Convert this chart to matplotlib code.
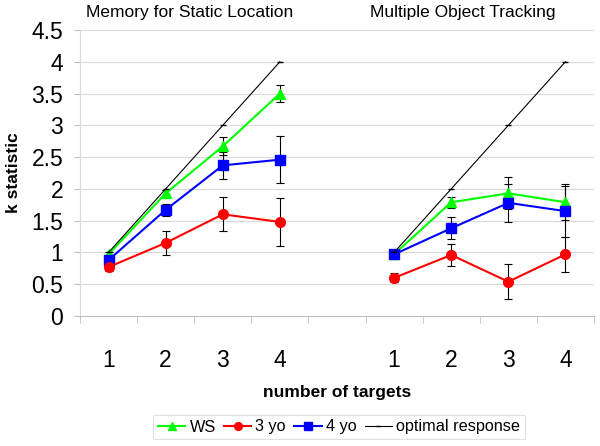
import matplotlib
matplotlib.use("Agg")
import matplotlib.pyplot as plt
import numpy as np

plt.rcParams['font.family'] = ['Liberation Sans', 'DejaVu Sans']

categories = ["1", "2", "3", "4", "", "1", "2", "3", "4"]
panel_titles = ["Memory for Static Location", "Multiple Object Tracking"]

# left panel (Memory for Static Location)
ws_static = [0.97, 1.93, 2.67, 3.50]
ws_static_err = [0.04, 0.06, 0.14, 0.13]
y3_static = [0.77, 1.15, 1.60, 1.48]
y3_static_err = [0.06, 0.19, 0.27, 0.38]
y4_static = [0.88, 1.67, 2.37, 2.46]
y4_static_err = [0.04, 0.09, 0.21, 0.37]
opt_static = [1, 2, 3, 4]

# right panel (Multiple Object Tracking)
ws_mot = [0.97, 1.79, 1.93, 1.79]
ws_mot_err = [0.03, 0.09, 0.25, 0.28]
y3_mot = [0.60, 0.96, 0.54, 0.97]
y3_mot_err = [0.07, 0.17, 0.28, 0.27]
y4_mot = [0.97, 1.38, 1.78, 1.65]
y4_mot_err = [0.03, 0.17, 0.30, 0.40]
opt_mot = [1, 2, 3, 4]

yticks = [0, 0.5, 1, 1.5, 2, 2.5, 3, 3.5, 4, 4.5]
ytick_labels = ["0", "0.5", "1", "1.5", "2", "2.5", "3", "3.5", "4", "4.5"]

fig = plt.figure(figsize=(6.0, 4.46), dpi=100)
ax = fig.add_axes([80/600, 1-316/446, (594-80)/600, (316-30)/446])

x_left = np.arange(0, 4)
x_right = np.arange(5, 9)

grid_c = '#d9d9d9'
for y in yticks[1:]:
    ax.axhline(y, color=grid_c, lw=0.8, zorder=0)

def series(x, vals, errs, color, marker, ms, label):
    ax.errorbar(x, vals, yerr=errs, fmt='none', ecolor='black', elinewidth=0.8,
                capsize=3, capthick=0.8, zorder=2)
    ax.plot(x, vals, color=color, marker=marker, ms=ms, lw=1.5, zorder=3,
            label=label)

for xs, ws, wse, y3, y3e, y4, y4e, op, lab in [
        (x_left, ws_static, ws_static_err, y3_static, y3_static_err,
         y4_static, y4_static_err, opt_static, True),
        (x_right, ws_mot, ws_mot_err, y3_mot, y3_mot_err,
         y4_mot, y4_mot_err, opt_mot, False)]:
    ax.plot(xs, op, color='black', lw=0.8, marker='_', ms=4, zorder=4,
            label='optimal response' if lab else None)
    series(xs, ws, wse, '#00ff00', '^', 7, 'WS' if lab else None)
    series(xs, y4, y4e, '#0000ff', 's', 6.5, '4 yo' if lab else None)
    series(xs, y3, y3e, '#ff0000', 'o', 7, '3 yo' if lab else None)

ax.set_xlim(-0.5, 8.5)
ax.set_ylim(0, 4.5)
ax.set_yticks(yticks)
ax.set_yticklabels(ytick_labels, fontsize=16.5)
ax.set_xticks(np.arange(9))
ax.set_xticklabels(categories, fontsize=16.5)
ax.set_xticks(np.arange(-0.5, 9.0, 1.0), minor=True)
ax.tick_params(axis='x', which='major', length=0, pad=24)
ax.tick_params(axis='x', which='minor', length=5, color='#bfbfbf', direction='out')
ax.tick_params(axis='y', length=4, color='#bfbfbf', pad=8)
for s in ['top', 'right']:
    ax.spines[s].set_visible(False)
ax.spines['left'].set_color('#d9d9d9')
ax.spines['bottom'].set_color('#bfbfbf')

fig.text(190/600, 1-13/446, panel_titles[0], ha='center', va='center', fontsize=12.5)
fig.text(463/600, 1-13/446, panel_titles[1], ha='center', va='center', fontsize=12.5)
fig.text(14/600, 1-173/446, 'k statistic', rotation=90, ha='center', va='center',
         fontsize=12.5, fontweight='bold')
fig.text(337/600, 1-392/446, 'number of targets', ha='center', va='center',
         fontsize=12.5, fontweight='bold')

handles, labels = ax.get_legend_handles_labels()
order = [labels.index(l) for l in ['WS', '3 yo', '4 yo', 'optimal response']]
leg = fig.legend([handles[i] for i in order], [labels[i] for i in order],
                 loc='center', bbox_to_anchor=(339/600, 1-427/446), ncol=4,
                 fontsize=11.7, frameon=True, fancybox=False, handlelength=1.7,
                 handletextpad=0.25, columnspacing=0.5, borderpad=0.3,
                 borderaxespad=0, markerscale=0.8)
leg.get_frame().set_edgecolor('#d9d9d9')
leg.get_frame().set_linewidth(0.8)

fig.savefig('out.png', dpi=100)
